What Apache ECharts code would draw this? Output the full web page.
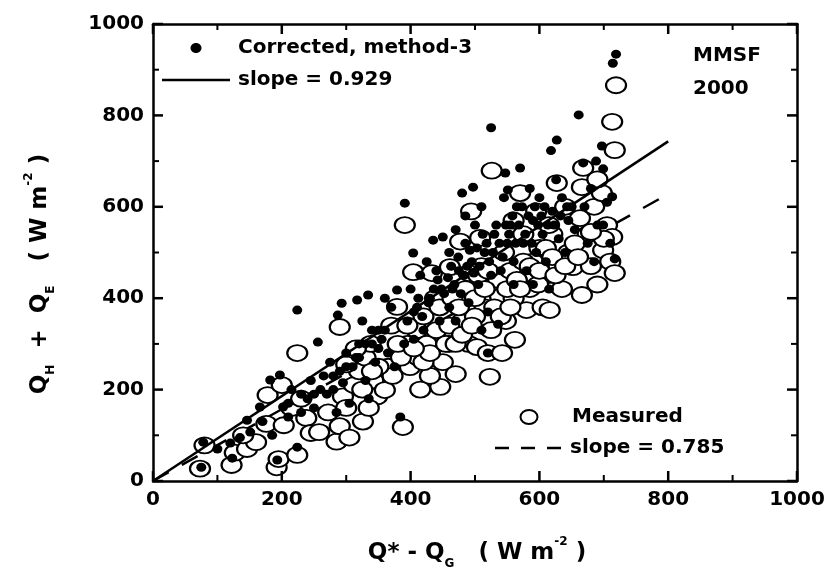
<!DOCTYPE html>
<html>
<head>
<meta charset="utf-8">
<script src="https://cdn.jsdelivr.net/npm/echarts@6/dist/echarts.min.js"></script>
<style>html,body{margin:0;padding:0;background:#fff}#c{width:836px;height:581px}</style>
</head>
<body>
<div id="c"></div>
<script>
// ---- data ----
const axisTicks = [0, 200, 400, 600, 800, 1000];
const tickValues = [0, 100, 200, 300, 400, 500, 600, 700, 800, 900, 1000];
const slopeCorrected = 0.929;
const slopeMeasured = 0.785;
const fitX = [0, 800];

const measured = [
  [73,27],[80,78],[122,35],[127,62],[146,70],[160,85],[140,100],
  [176,125],[192,30],[195,48],[203,122],[224,57],[238,138],[178,188],[200,210],[224,280],[215,160],[245,105],[230,180],
  [258,107],[272,150],[285,86],[290,120],[295,185],[300,160],[305,95],[312,210],[320,240],[290,337],[300,255],[326,130],[330,270],[338,300],[342,220],[348,185],[335,160],[315,290],
  [360,199],[365,250],[372,230],[379,381],[388,118],[391,560],[395,300],[399,249],[404,457],[410,330],[412,270],[420,360],[425,300],[433,455],[438,400],[440,330],[446,206],[450,260],[445,380],[430,230],[415,200],[385,270],[370,340],
  [461,468],[470,234],[477,524],[480,350],[485,420],[490,300],[494,590],[503,293],[508,532],[510,470],[515,380],[520,280],[523,228],[526,679],[530,430],[536,440],[539,403],[542,280],[545,500],[548,350],[460,300],[465,400],[490,455],[500,360],[525,330],
  [555,460],[562,309],[570,630],[575,540],[580,374],[585,420],[590,480],[595,590],[600,510],[605,380],[610,450],[616,374],[620,540],[627,652],[630,470],[635,420],[640,600],[645,500],[652,468],[560,400],[575,480],[598,430],[615,560],[560,570],
  [663,575],[666,407],[666,643],[668,685],[675,540],[680,470],[685,600],[690,430],[697,630],[699,505],[705,560],[710,480],[713,534],[713,786],[717,724],[717,455],[719,866],[690,660],[700,530],
  [420,260],[430,280],[455,300],[460,340],[470,300],[475,380],[480,320],[495,340],[500,400],[505,450],[515,420],[520,460],[530,380],[540,360],[550,420],[555,380],[565,440],[570,420],[585,470],[600,460],[610,510],[620,490],[625,450],[640,470],[655,520],[680,545],[660,490],[350,250],[380,300],[395,340],[405,290],[340,240],[325,200]
];

const corrected = [
  [75,30],[78,85],[120,83],[123,50],[146,133],[151,107],[135,95],[100,70],
  [166,162],[182,221],[193,46],[197,232],[202,162],[210,140],[224,74],[224,374],[240,180],[230,150],[215,200],[245,220],[185,100],[170,130],[250,160],
  [256,304],[265,230],[275,260],[287,363],[293,389],[300,280],[310,250],[317,396],[320,300],[330,220],[334,407],[340,330],[345,260],[280,200],[295,215],[305,170],[325,350],[335,180],[315,270],[350,290],[285,150],[270,190],
  [360,330],[365,280],[370,380],[379,418],[384,140],[390,300],[391,608],[395,350],[400,420],[404,499],[410,380],[415,450],[420,330],[425,480],[430,400],[435,527],[440,460],[445,350],[450,534],[448,420],[360,400],[375,250],[405,310],
  [460,500],[465,420],[470,550],[475,460],[480,630],[485,520],[490,390],[495,480],[497,643],[500,560],[505,430],[510,600],[515,500],[520,370],[520,280],[525,773],[530,540],[536,343],[540,460],[545,620],[547,674],[550,520],[460,380],[470,350],[485,580],[510,330],[525,450],
  [551,637],[555,560],[560,480],[565,600],[570,685],[575,520],[580,460],[585,640],[590,570],[595,500],[600,620],[605,540],[610,480],[618,723],[620,590],[626,659],[627,746],[630,530],[635,620],[640,500],[645,570],[650,600],[560,430],[590,430],[615,420],
  [655,550],[661,801],[668,696],[670,600],[675,520],[680,640],[685,480],[690,560],[697,733],[699,683],[699,560],[705,610],[713,622],[714,914],[717,486],[719,934],[710,520],[688,700],
  [405,370],[412,400],[418,360],[428,390],[436,420],[442,440],[452,410],[458,445],[463,470],[468,430],[474,490],[478,410],[483,450],[488,470],[492,505],[498,455],[503,510],[507,470],[512,540],[518,520],[522,480],[528,500],[533,560],[538,520],[543,490],[548,560],[553,540],[558,580],[563,520],[568,560],[573,600],[578,540],[583,580],[588,520],[593,600],[598,560],[603,580],[608,600],[613,560],[623,560],[633,580],[643,600],
  [350,330],[355,310],[340,300],[330,300],[320,270],[300,250],[290,240],[280,230],[260,200],[250,190],[230,190],[210,170]
];

// ---- chart ----
const FONT = 'DejaVu Sans';
const ellipsePath = 'path://M-1,0A1,1 0 1,0 1,0A1,1 0 1,0 -1,0Z';
const AMIN = axisTicks[0], AMAX = axisTicks[axisTicks.length - 1], STEP = axisTicks[1] - axisTicks[0];

function axisBase(pos, showLabel) {
  return {
    type: 'value', position: pos, min: AMIN, max: AMAX, interval: STEP,
    axisLine: {show: true, onZero: false, lineStyle: {color: '#000', width: 2.5}},
    axisTick: {show: false},
    minorTick: {show: false},
    splitLine: {show: false},
    axisLabel: {show: showLabel, color: '#000', fontFamily: FONT, fontWeight: 'bold', fontSize: 20, margin: 9,
      formatter: v => String(v)}
  };
}

const sub = {fontSize: 12, fontFamily: FONT, fontWeight: 'bold', color: '#000', verticalAlign: 'bottom', lineHeight: 12};
const sup = {fontSize: 12, fontFamily: FONT, fontWeight: 'bold', color: '#000', verticalAlign: 'top', lineHeight: 12};
const main = {fontSize: 23, fontFamily: FONT, fontWeight: 'bold', color: '#000', lineHeight: 34, verticalAlign: 'middle'};

const txt = (x, y, s) => ({
  type: 'text', x: x, y: y, z: 100,
  style: {text: s, fontFamily: FONT, fontWeight: 'bold', fontSize: 20, fill: '#000', verticalAlign: 'middle', align: 'left'}
});

function renderTicks(params, api) {
  const v = api.value(0);
  const major = v % STEP === 0;
  const L = major ? 10 : 6;
  const st = {stroke: '#000', lineWidth: major ? 2.5 : 2};
  const b = api.coord([v, AMIN]), t = api.coord([v, AMAX]);
  const l = api.coord([AMIN, v]), r = api.coord([AMAX, v]);
  return {
    type: 'group',
    children: [
      {type: 'line', shape: {x1: b[0], y1: b[1], x2: b[0], y2: b[1] - L}, style: st},
      {type: 'line', shape: {x1: t[0], y1: t[1], x2: t[0], y2: t[1] + L}, style: st},
      {type: 'line', shape: {x1: l[0], y1: l[1], x2: l[0] + L, y2: l[1]}, style: st},
      {type: 'line', shape: {x1: r[0], y1: r[1], x2: r[0] - L, y2: r[1]}, style: st}
    ]
  };
}

const chart = echarts.init(document.getElementById('c'));
chart.setOption({
  animation: false,
  grid: {left: 153, top: 24, width: 644, height: 457},
  xAxis: [axisBase('bottom', true), axisBase('top', false)],
  yAxis: [axisBase('left', true), axisBase('right', false)],
  series: [
    {
      type: 'line', name: 'slope = 0.785', z: 1,
      data: fitX.map(x => [x, slopeMeasured * x]),
      symbol: 'none', lineStyle: {color: '#000', width: 2.5, type: [18, 15]}
    },
    {
      type: 'scatter', name: 'Measured', z: 2,
      data: measured, symbol: ellipsePath, symbolSize: [20, 16],
      itemStyle: {color: '#fff', borderColor: '#000', borderWidth: 2, opacity: 1}
    },
    {
      type: 'scatter', name: 'Corrected, method-3', z: 3,
      data: corrected, symbol: ellipsePath, symbolSize: [10, 9],
      itemStyle: {color: '#000', opacity: 1}
    },
    {
      type: 'line', name: 'slope = 0.929', z: 4,
      data: fitX.map(x => [x, slopeCorrected * x]),
      symbol: 'none', lineStyle: {color: '#000', width: 2.5}
    },
    {
      type: 'custom', name: 'ticks', z: 10, silent: true, clip: false,
      data: tickValues.map(v => [v, AMIN]),
      renderItem: renderTicks
    }
  ],
  graphic: [
    {type: 'ellipse', z: 100, shape: {cx: 196, cy: 48, rx: 5.5, ry: 5}, style: {fill: '#000'}},
    txt(238, 48, 'Corrected, method-3'),
    {type: 'line', z: 100, shape: {x1: 162, y1: 80, x2: 230, y2: 80}, style: {stroke: '#000', lineWidth: 2.5}},
    txt(238, 80, 'slope = 0.929'),
    txt(693, 56, 'MMSF'),
    txt(693, 89, '2000'),
    {type: 'ellipse', z: 100, shape: {cx: 529, cy: 417, rx: 8.5, ry: 7}, style: {fill: '#fff', stroke: '#000', lineWidth: 2}},
    txt(572, 417, 'Measured'),
    {type: 'line', z: 100, shape: {x1: 495, y1: 448, x2: 561, y2: 448}, style: {stroke: '#000', lineWidth: 2.5, lineDash: [14, 12]}},
    txt(570, 448, 'slope = 0.785'),
    {
      type: 'text', x: 477, y: 553, z: 100,
      style: {
        text: '{m|Q* - Q}{s|G}{m|   ( W m}{p|-2}{m| )}',
        align: 'center', verticalAlign: 'middle',
        rich: {m: main, s: sub, p: sup}
      }
    },
    {
      type: 'text', x: 40, y: 274, z: 100, rotation: Math.PI / 2,
      style: {
        text: '{m|Q}{s|H}{m|  +  Q}{s|E}{m|   ( W m}{p|-2}{m| )}',
        align: 'center', verticalAlign: 'middle',
        rich: {m: main, s: sub, p: sup}
      }
    }
  ]
});
</script>
</body>
</html>
